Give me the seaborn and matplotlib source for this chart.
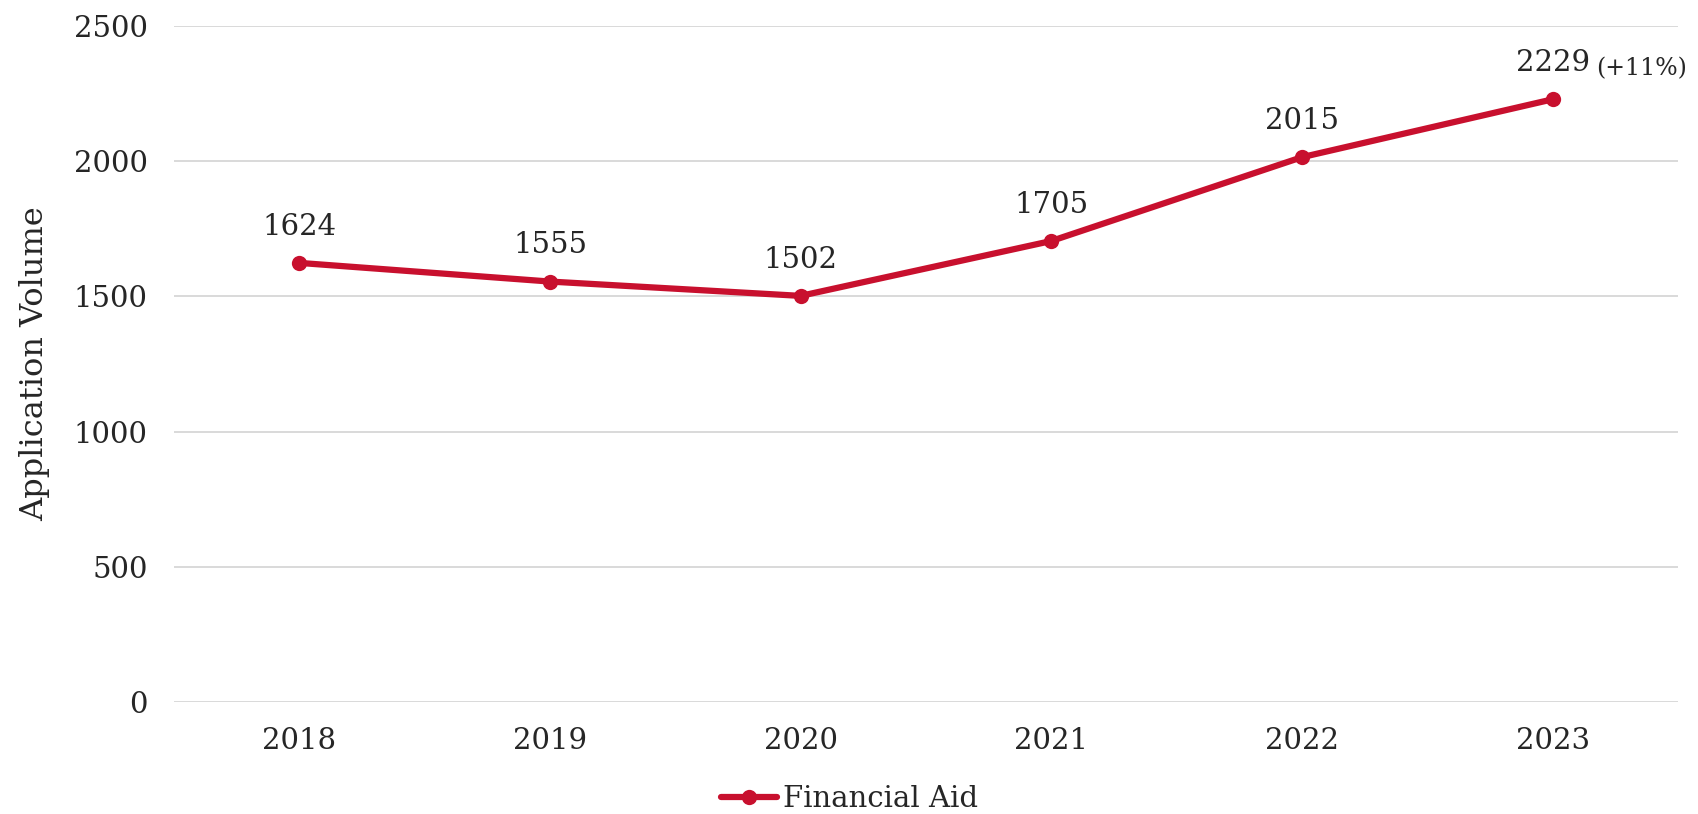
import matplotlib
matplotlib.use("Agg")
import matplotlib.pyplot as plt
import seaborn as sns
import pandas as pd

years = ["2018", "2019", "2020", "2021", "2022", "2023"]
volumes = [1624, 1555, 1502, 1705, 2015, 2229]
series_name = "Financial Aid"
growth_note = "(+11%)"
y_ticks = [0, 500, 1000, 1500, 2000, 2500]

sns.set_theme(style="white")
plt.rcParams["font.family"] = ["DejaVu Serif"]

LINE_COLOR = "#C8102E"
TEXT_COLOR = "#262626"
GRID_COLOR = "#D9D9D9"

df = pd.DataFrame({"Year": years, "Volume": volumes, "Series": series_name})

fig = plt.figure(figsize=(16.99, 8.14), dpi=100)
ax = fig.add_axes([0.1024, 0.1376, 0.8852, 0.8304])

sns.lineplot(data=df, x="Year", y="Volume", hue="Series", palette=[LINE_COLOR],
             marker="o", markersize=11, markeredgewidth=0, linewidth=4.5,
             sort=False, ax=ax, zorder=3, legend=False)

ax.set_xlim(-0.5, len(years) - 0.5)
ax.set_ylim(0, 2500)
ax.set_yticks(y_ticks)
ax.yaxis.grid(True, color=GRID_COLOR, linewidth=1.4)
ax.xaxis.grid(False)
for s in ax.spines.values():
    s.set_visible(False)
ax.tick_params(axis="y", labelsize=21, colors=TEXT_COLOR, pad=19, length=0)
ax.tick_params(axis="x", labelsize=21, colors=TEXT_COLOR, pad=18, length=0)
ax.set_xlabel("")
ax.set_ylabel("Application Volume", fontsize=23, color=TEXT_COLOR, labelpad=17)

for i, v in enumerate(volumes):
    ax.annotate(str(v), (i, v), xytext=(0, 26), textcoords="offset points",
                ha="center", va="center", fontsize=21, color=TEXT_COLOR)
last = len(volumes) - 1
ax.annotate(growth_note, (last, volumes[last]), xytext=(31, 22), textcoords="offset points",
            ha="left", va="center", fontsize=17, color=TEXT_COLOR)

handle = plt.Line2D([], [], color=LINE_COLOR, linewidth=4.5, marker="o",
                    markersize=11, markeredgewidth=0)
leg = fig.legend([handle], [series_name], loc="center", bbox_to_anchor=(0.5, 0.018),
                 frameon=False, fontsize=21, handlelength=1.9, handletextpad=0.2,
                 borderaxespad=0, borderpad=0)
for t in leg.get_texts():
    t.set_color(TEXT_COLOR)

fig.savefig("out.png", dpi=100)
